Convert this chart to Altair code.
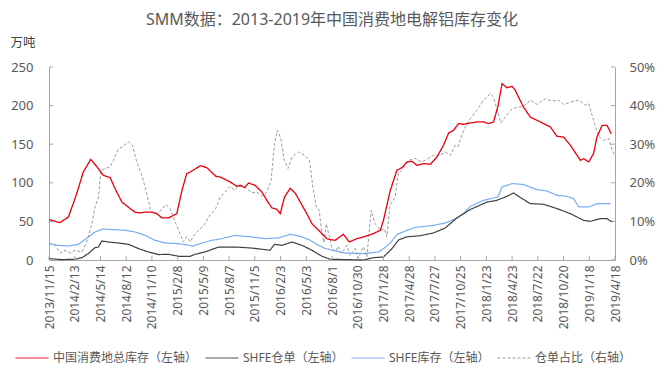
import altair as alt
import pandas as pd

# ---------------- data (x = days since 2013-11-15) ----------------
TITLE = "SMM数据：2013-2019年中国消费地电解铝库存变化"
UNIT = "万吨"
SERIES = ["中国消费地总库存（左轴）", "SHFE仓单（左轴）", "SHFE库存（左轴）", "仓单占比（右轴）"]
COLORS = ["#e8000e", "#404040", "#78adef", "#9a9a9a"]
DASHES = [[1, 0], [1, 0], [1, 0], [3, 2]]

TICK_LABELS = ["2013/11/15", "2014/2/13", "2014/5/14", "2014/8/12", "2014/11/10",
               "2015/2/8", "2015/5/9", "2015/8/7", "2015/11/5", "2016/2/3", "2016/5/3",
               "2016/8/1", "2016/10/30", "2017/1/28", "2017/4/28", "2017/7/27",
               "2017/10/25", "2018/1/23", "2018/4/23", "2018/7/22", "2018/10/20",
               "2019/1/18", "2019/4/18"]
TICK_STEP = 90
LEFT_TICKS = [0, 50, 100, 150, 200, 250]
RIGHT_TICKS = [0, 0.1, 0.2, 0.3, 0.4, 0.5]

# 中国消费地总库存 (万吨)
total_stock = [(0, 52.3), (38, 48.4), (68, 55.7), (97, 86), (120, 114), (146, 130.4), (167, 121),
               (190, 109.7), (214, 106.7), (231, 92.5), (255, 75), (284, 66.5), (301, 62), (319, 61),
               (336, 62), (360, 62), (377, 60), (395, 54.5), (418, 54.5), (447, 60), (465, 90),
               (482, 112), (494, 114), (529, 122), (552, 119.7), (584, 108.4), (599, 107.5),
               (634, 101), (657, 95.5), (669, 96.8), (684, 93.8), (698, 99.7), (721, 96.8),
               (745, 88), (762, 77.3), (780, 67.4), (797, 65.7), (809, 60), (824, 81.6),
               (844, 92.9), (861, 86.8), (879, 75), (902, 60), (920, 47), (937, 40.7), (955, 34.2),
               (972, 27.7), (984, 26.4), (1001, 25.5), (1030, 33.3), (1051, 23.3), (1077, 27.7),
               (1100, 29.8), (1135, 34.2), (1159, 38.5), (1170, 51.4), (1194, 90.3), (1217, 116.2),
               (1235, 119.7), (1252, 127), (1270, 127.8), (1287, 122.7), (1310, 124.9), (1334, 124),
               (1357, 133.4), (1380, 148.6), (1398, 164.5), (1415, 168), (1433, 176.7),
               (1450, 175.8), (1474, 177.5), (1497, 178.8), (1520, 178.8), (1538, 176.7),
               (1555, 178.8), (1570, 198), (1585, 228.5), (1602, 223), (1620, 225), (1631, 219.8),
               (1660, 198), (1684, 185), (1707, 181), (1730, 176.7), (1754, 172.3), (1777, 160.2),
               (1800, 159.3), (1824, 148.6), (1859, 129.1), (1870, 131.3), (1888, 127),
               (1905, 137.8), (1917, 159.3), (1935, 174.5), (1952, 174.5), (1967, 163.7)]

# SHFE仓单 (万吨)
shfe_warrant = [(0, 1.8), (45, 0.5), (91, 1.0), (115, 3.0), (138, 8.3), (161, 16.0), (173, 16.8),
                (185, 24.6), (208, 23.3), (243, 22.0), (278, 20.3), (313, 14.8), (348, 10.4),
                (383, 7.0), (418, 7.4), (453, 4.8), (494, 4.8), (511, 7.4), (546, 10.4), (593, 16.8),
                (651, 16.8), (710, 15.5), (773, 12.6), (789, 20.3), (815, 19.0), (850, 23.3),
                (885, 19.0), (920, 12.6), (955, 4.8), (984, 1.0), (1100, 0.0), (1135, 3.0),
                (1170, 3.9), (1200, 14.8), (1223, 26.0), (1252, 30.0), (1299, 31.5), (1345, 35.0),
                (1386, 41.5), (1427, 54.5), (1474, 65.5), (1532, 75.0), (1567, 77.3), (1602, 82.5),
                (1625, 86.8), (1655, 79.5), (1684, 73.0), (1730, 72.2), (1777, 66.6), (1824, 60.0),
                (1870, 51.4), (1894, 50.1), (1929, 53.6), (1952, 53.6), (1970, 49.2)]

# SHFE库存 (万吨)
shfe_stock = [(0, 21.2), (33, 19.0), (68, 18.1), (103, 20.3), (138, 29.8), (161, 36.3), (190, 40.2),
              (220, 39.4), (266, 38.5), (301, 36.3), (336, 32.0), (371, 25.5), (406, 22.0),
              (453, 21.2), (494, 19.0), (500, 17.7), (535, 22.0), (570, 25.5), (605, 27.7),
              (651, 32.0), (710, 29.8), (756, 27.7), (803, 28.5), (844, 33.3), (879, 30.7),
              (914, 25.5), (943, 19.0), (966, 14.8), (1036, 9.0), (1106, 8.3), (1153, 10.4),
              (1170, 14.8), (1194, 22.0), (1217, 33.0), (1246, 37.5), (1281, 42.3), (1340, 44.5),
              (1386, 47.9), (1410, 51.4), (1433, 55.7), (1456, 62.2), (1474, 69.5), (1520, 77.3),
              (1570, 81.6), (1585, 94.6), (1620, 99.0), (1660, 97.7), (1707, 91.2), (1742, 89.4),
              (1777, 83.8), (1812, 82.5), (1835, 79.5), (1853, 68.7), (1888, 68.7), (1917, 73.0),
              (1964, 73.0)]

# 仓单占比 (%)
warrant_ratio = [(0, 4.4), (21, 3.8), (39, 1.8), (56, 2.5), (74, 1.8), (91, 2.5), (115, 2.1),
                 (132, 4.7), (150, 9.4), (161, 13.7), (173, 16.3), (182, 23.2), (196, 23.7),
                 (214, 24.1), (225, 25.8), (241, 28.6), (260, 29.5), (278, 30.6), (292, 29.7),
                 (307, 25.4), (325, 21.9), (342, 17.2), (357, 12.4), (377, 12.0), (395, 13.1),
                 (409, 14.4), (424, 13.3), (435, 11.1), (453, 7.7), (470, 4.7), (482, 6.0),
                 (494, 4.7), (511, 6.8), (529, 8.1), (546, 9.4), (564, 11.8), (581, 12.9),
                 (599, 16.3), (616, 17.6), (634, 19.1), (649, 18.1), (663, 19.1), (686, 18.9),
                 (710, 17.4), (727, 17.6), (745, 16.5), (762, 17.6), (777, 20.6), (789, 30.2),
                 (799, 33.6), (811, 31.5), (823, 25.8), (836, 23.7), (850, 26.7), (873, 28.0),
                 (894, 27.1), (911, 25.8), (923, 18.9), (935, 13.7), (945, 12.9), (955, 6.8),
                 (962, 4.5), (970, 9.4), (989, 3.4), (1001, 2.1), (1012, 3.5), (1024, 1.7),
                 (1042, 3.8), (1053, 1.2), (1071, 3.0), (1082, 0.4), (1100, 3.4), (1112, 0.8),
                 (1127, 12.9), (1141, 9.4), (1158, 7.7), (1173, 8.1), (1182, 6.0), (1193, 14.2),
                 (1211, 16.3), (1222, 22.4), (1240, 23.7), (1257, 25.8), (1281, 26.3), (1304, 25.4),
                 (1327, 26.3), (1345, 27.1), (1368, 27.1), (1386, 28.0), (1404, 27.1), (1421, 29.7),
                 (1430, 29.3), (1444, 32.3), (1456, 34.5), (1474, 36.6), (1497, 38.8), (1520, 41.4),
                 (1544, 43.1), (1555, 42.2), (1570, 38.3), (1581, 35.5), (1596, 37.0), (1620, 39.2),
                 (1643, 39.6), (1660, 39.8), (1684, 41.4), (1707, 40.3), (1736, 41.8), (1760, 41.2),
                 (1783, 41.4), (1800, 40.3), (1824, 40.9), (1853, 41.4), (1876, 40.1), (1888, 40.5),
                 (1905, 36.2), (1923, 32.0), (1940, 31.0), (1958, 31.5), (1970, 28.4), (1979, 27.3)]

# ---------------- styling ----------------
W, H = 566, 193
FONT = "Noto Sans, Noto Sans CJK SC"
TEXT = "#595959"
AXIS = "#a6a6a6"


def frame(points, name, factor=1.0):
    return pd.DataFrame({"day": [p[0] for p in points],
                         "value": [p[1] * factor for p in points],
                         "series": name})


x_scale = alt.Scale(domain=[0, TICK_STEP * (len(TICK_LABELS) - 1)], nice=False, zero=False)
left_scale = alt.Scale(domain=[0, 250], nice=False)
right_scale = alt.Scale(domain=[0, 0.5], nice=False)
color_scale = alt.Scale(domain=SERIES, range=COLORS)
dash_scale = alt.Scale(domain=SERIES, range=DASHES)

label_js = "[" + ",".join("'%s'" % s for s in TICK_LABELS) + "]"
x_axis = alt.Axis(values=[i * TICK_STEP for i in range(len(TICK_LABELS))],
                  labelExpr=label_js + "[round(datum.value / %d)]" % TICK_STEP,
                  labelAngle=-90, labelOverlap=False, labelFlush=False, title=None,
                  ticks=False, tickSize=0, labelPadding=5, labelFont=FONT, labelFontSize=12,
                  labelColor=TEXT, domainColor=AXIS, grid=False)
left_axis = alt.Axis(values=LEFT_TICKS, orient="left", title=UNIT, titleAngle=0,
                     titleX=-39, titleY=-25, titleAlign="left", titleBaseline="middle",
                     titleFont=FONT, titleFontSize=12.5, titleFontWeight="normal",
                     titleColor="#404040", ticks=False, tickSize=0, labelPadding=16,
                     labelFont=FONT, labelFontSize=13, labelColor=TEXT, domainColor=AXIS,
                     grid=False)
right_axis = alt.Axis(values=RIGHT_TICKS, orient="right", format=".0%", title=None,
                      ticks=False, tickSize=0, labelPadding=14, labelFont=FONT,
                      labelFontSize=13, labelColor=TEXT, domainColor=AXIS, grid=False)

legend = alt.Legend(title=None, orient="none", legendX=-34, legendY=274,
                    direction="horizontal", columns=4, symbolType="stroke",
                    symbolSize=1089, symbolStrokeWidth=1.0, labelFont=FONT,
                    labelFontSize=12, labelColor=TEXT, labelOffset=4,
                    columnPadding=5, padding=0, labelLimit=300)


def line(df, width, yscale, yaxis):
    return alt.Chart(df).mark_line(strokeWidth=width).encode(
        x=alt.X("day:Q", scale=x_scale, axis=x_axis),
        y=alt.Y("value:Q", scale=yscale, axis=yaxis),
        color=alt.Color("series:N", scale=color_scale, legend=legend),
        strokeDash=alt.StrokeDash("series:N", scale=dash_scale, legend=legend),
    )


ratio_line = line(frame(warrant_ratio, SERIES[3], 0.01), 1.0, right_scale, right_axis)
right_ticks = alt.Chart(pd.DataFrame({"value": RIGHT_TICKS})).mark_rule(
    color=AXIS, strokeWidth=1).encode(
    y=alt.Y("value:Q", scale=right_scale, axis=right_axis),
    x=alt.value(W - 4), x2=alt.value(W))
right_group = alt.layer(ratio_line, right_ticks)

blue = line(frame(shfe_stock, SERIES[2]), 1.2, left_scale, left_axis)
dark = line(frame(shfe_warrant, SERIES[1]), 1.2, left_scale, left_axis)
red = line(frame(total_stock, SERIES[0]), 1.3, left_scale, left_axis)
left_ticks = alt.Chart(pd.DataFrame({"value": LEFT_TICKS})).mark_rule(
    color=AXIS, strokeWidth=1).encode(
    y=alt.Y("value:Q", scale=left_scale, axis=left_axis),
    x=alt.value(0), x2=alt.value(4))
left_group = alt.layer(blue, dark, red, left_ticks)

bottom_ticks = alt.Chart(pd.DataFrame(
    {"day": [i * TICK_STEP for i in range(len(TICK_LABELS))]})).mark_rule(
    color=AXIS, strokeWidth=1).encode(
    x=alt.X("day:Q", scale=x_scale, axis=x_axis),
    y=alt.value(H - 4), y2=alt.value(H))

chart = alt.layer(right_group, left_group, bottom_ticks).resolve_scale(
    y="independent"
).properties(
    width=W, height=H,
    title=alt.TitleParams(TITLE, font=FONT, fontSize=16, fontWeight="normal",
                          color=TEXT, anchor="middle", offset=8),
    autosize=alt.AutoSizeParams(type="none"),
    padding={"left": 41, "top": 59, "right": 41, "bottom": 110},
    background="white",
).configure_view(stroke=None)

chart.save("out.html", embed_options={"renderer": "svg", "actions": False})
